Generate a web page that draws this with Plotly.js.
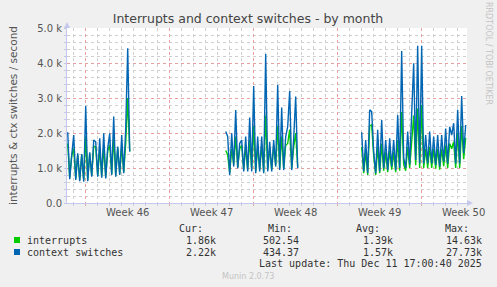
<!DOCTYPE html>
<html>
<head>
<meta charset="utf-8">
<script src="https://cdn.plot.ly/plotly-3.0.1.min.js"></script>
<style>
html,body{margin:0;padding:0;background:#f0f0f0;}
#chart{width:497px;height:287px;}
</style>
</head>
<body>
<div id="chart"></div>
<script>
// ---- data (per second), 4-hour samples; three recorded stretches separated by gaps ----
const segmentStarts = ['2025-11-08T12:00', '2025-11-21T16:00', '2025-12-03T00:00'];
const stepHours = 4;

const ctxSegA = [2020,680,1370,1940,660,1420,620,1400,610,2770,620,1450,750,1800,1750,750,1850,720,1990,700,1560,1990,800,2470,750,1610,800,1940,850,2130,4420,1470];
const intSegA = [1700,720,1350,1550,700,1380,660,1380,660,1900,660,1400,780,1620,1600,780,1550,760,1600,740,1500,1650,830,1850,800,1580,840,1620,880,1700,3000,1470];

const ctxSegB = [2040,1900,800,1990,1040,2660,990,1700,1800,900,1900,900,2440,900,3340,850,1900,900,1900,850,4260,900,1750,900,1800,1040,3370,940,2730,940,1900,2180,3200,940,1850,3040,990];
const intSegB = [1500,1370,850,1550,1100,1900,1020,1550,1650,950,1600,950,1800,950,2200,900,1600,950,1650,900,2500,950,1600,950,1650,1080,2200,980,1900,980,1650,1700,2100,980,1600,2000,1020];

const ctxSegC = [2020,900,1800,850,2660,2610,1470,850,2090,900,2370,990,1800,940,1850,1040,1800,940,2510,1000,4340,1280,1000,2040,1100,2330,3990,1230,4490,1130,4490,1130,1940,1130,2040,1130,1900,1090,1940,1040,1940,1180,2130,1130,2180,1940,2280,1130,2660,1130,3060,1420,2230];
const intSegC = [1600,850,1450,800,2200,2230,1350,800,1600,850,1700,920,1450,880,1500,950,1450,880,1800,920,2600,1100,920,1600,1000,1700,2500,1080,2700,1000,2800,1000,1550,1000,1600,1000,1550,980,1550,950,1550,1050,1650,1000,1700,1550,1750,1000,2000,1000,2200,1250,1860];

const seriesNames = ['interrupts', 'context switches'];
const seriesColors = ['#00cc00', '#0066b3'];

const weekStarts = ['2025-11-10', '2025-11-17', '2025-11-24', '2025-12-01', '2025-12-08'];
const weekMids = ['2025-11-13 12:00', '2025-11-20 12:00', '2025-11-27 12:00', '2025-12-04 12:00', '2025-12-11 12:00'];
const weekLabels = ['Week 46', 'Week 47', 'Week 48', 'Week 49', 'Week 50'];
const xRange = ['2025-11-08 10:34', '2025-12-11 18:40'];

const yTickVals = [0, 1000, 2000, 3000, 4000, 5000];
const yTickText = ['0.0', '1.0 k', '2.0 k', '3.0 k', '4.0 k', '5.0 k'];

const statHeads = ['Cur:', 'Min:', 'Avg:', 'Max:'];
const statsInterrupts = ['1.86k', '502.54', '1.39k', '14.63k'];
const statsContext = ['2.22k', '434.37', '1.57k', '27.73k'];
const lastUpdate = 'Last update: Thu Dec 11 17:00:40 2025';

// ---- build x/y with gaps ----
function addHours(s, h) {
  const d = new Date(new Date(s + ':00Z').getTime() + h * 3600000);
  return d.toISOString().slice(0, 16).replace('T', ' ');
}
function build(segs) {
  const xs = [], ys = [];
  segs.forEach((vals, k) => {
    vals.forEach((v, i) => { xs.push(addHours(segmentStarts[k], i * stepHours)); ys.push(v); });
    if (k < segs.length - 1) { xs.push(addHours(segmentStarts[k], vals.length * stepHours)); ys.push(null); }
  });
  return {xs, ys};
}
const sInt = build([intSegA, intSegB, intSegC]);
const sCtx = build([ctxSegA, ctxSegB, ctxSegC]);

const traces = [
  {x: sInt.xs, y: sInt.ys, name: seriesNames[0], type: 'scatter', mode: 'lines',
   line: {color: seriesColors[0], width: 1.4}, connectgaps: false, hoverinfo: 'skip'},
  {x: sCtx.xs, y: sCtx.ys, name: seriesNames[1], type: 'scatter', mode: 'lines', xaxis: 'x2',
   line: {color: seriesColors[1], width: 1.4}, connectgaps: false, hoverinfo: 'skip'}
];

// ---- layout helpers (pixel -> paper) ----
const L = 67, R = 467, T = 28, B = 203;
const px = x => (x - L) / (R - L);
const py = y => (B - y) / (B - T);
const mono = 'DejaVu Sans Mono, monospace';
const sans = 'DejaVu Sans, sans-serif';

const ann = [];
function txt(text, x, y, xanchor, size, color, family, extra) {
  ann.push(Object.assign({text, x: px(x), y: py(y), xref: 'paper', yref: 'paper',
    xanchor, yanchor: 'middle', showarrow: false, borderpad: 0,
    font: {family: family || mono, size: size || 10, color: color || '#333'}}, extra || {}));
}
const headRight = [204, 293, 381, 470];
const valRight = [217, 300, 394, 483];
statHeads.forEach((h, i) => txt(h, headRight[i], 228, 'right'));
txt(seriesNames[0], 26, 240, 'left');
txt(seriesNames[1], 26, 252, 'left');
statsInterrupts.forEach((v, i) => txt(v, valRight[i], 240, 'right'));
statsContext.forEach((v, i) => txt(v, valRight[i], 252, 'right'));
txt(lastUpdate, 483, 263.5, 'right');
txt('Munin 2.0.73', 248, 276, 'center', 8, '#c4c4c4', sans);
txt('RRDTOOL / TOBI OETIKER', 489, 53, 'center', 8, '#c4c4c4', sans, {textangle: 90});

const shapes = [
  {type: 'rect', xref: 'paper', yref: 'paper', x0: px(14), x1: px(20), y0: py(243), y1: py(237),
   fillcolor: seriesColors[0], line: {width: 0}},
  {type: 'rect', xref: 'paper', yref: 'paper', x0: px(14), x1: px(20), y0: py(255), y1: py(249),
   fillcolor: seriesColors[1], line: {width: 0}},
  // axis arrows
  {type: 'path', xref: 'paper', yref: 'paper',
   path: `M ${px(64)} ${py(28)} L ${px(70)} ${py(28)} L ${px(67)} ${py(22)} Z`,
   fillcolor: '#c4c8ec', line: {width: 0}},
  {type: 'path', xref: 'paper', yref: 'paper',
   path: `M ${px(467)} ${py(200)} L ${px(467)} ${py(206)} L ${px(473)} ${py(203)} Z`,
   fillcolor: '#c4c8ec', line: {width: 0}}
];

const layout = {
  width: 497, height: 287,
  margin: {l: L, r: 497 - R, t: T, b: 287 - B},
  paper_bgcolor: '#f0f0f0', plot_bgcolor: '#ffffff',
  showlegend: false,
  title: {text: 'Interrupts and context switches - by month', x: 248 / 497, xref: 'container', xanchor: 'center',
          y: 1 - 19 / 287, yref: 'container', yanchor: 'middle',
          font: {family: sans, size: 12.5, color: '#444'}},
  xaxis: {type: 'date', range: xRange, tickmode: 'array', tickvals: weekStarts, showticklabels: false,
          showgrid: true, gridcolor: '#e6a0a0', griddash: 'dot', gridwidth: 1,
          ticks: 'outside', ticklen: 2, tickcolor: '#e6a0a0',
          minor: {tickmode: 'linear', tick0: '2025-11-09', dtick: 86400000, showgrid: true,
                  gridcolor: '#cfcfcf', griddash: 'dot', ticks: 'outside', ticklen: 2, tickcolor: '#c4c8ec'},
          showline: true, linecolor: '#c4c8ec', linewidth: 1, zeroline: false, fixedrange: true},
  xaxis2: {type: 'date', range: xRange, overlaying: 'x', anchor: 'y', side: 'bottom',
           tickmode: 'array', tickvals: weekMids, ticktext: weekLabels, showgrid: false, ticks: '',
           ticklabelstandoff: 2,
           showline: false, zeroline: false, fixedrange: true,
           tickfont: {family: sans, size: 10, color: '#555'}},
  yaxis: {range: [0, 5000], tickmode: 'array', tickvals: yTickVals, ticktext: yTickText,
          showgrid: true, gridcolor: '#e6a0a0', griddash: 'dot', gridwidth: 1,
          ticks: 'outside', ticklen: 2, tickcolor: '#c4c8ec',
          minor: {dtick: 200, showgrid: true, gridcolor: '#cfcfcf', griddash: 'dot', ticks: 'outside', ticklen: 2, tickcolor: '#c4c8ec'},
          showline: true, linecolor: '#c4c8ec', linewidth: 1, zeroline: false,
          tickfont: {family: sans, size: 10, color: '#555'},
          title: {text: 'interrupts & ctx switches / second', font: {family: sans, size: 10.5, color: '#555'}, standoff: 17},
          fixedrange: true},
  annotations: ann,
  shapes: shapes
};

Plotly.newPlot('chart', traces, layout, {displayModeBar: false, staticPlot: true});
</script>
</body>
</html>
